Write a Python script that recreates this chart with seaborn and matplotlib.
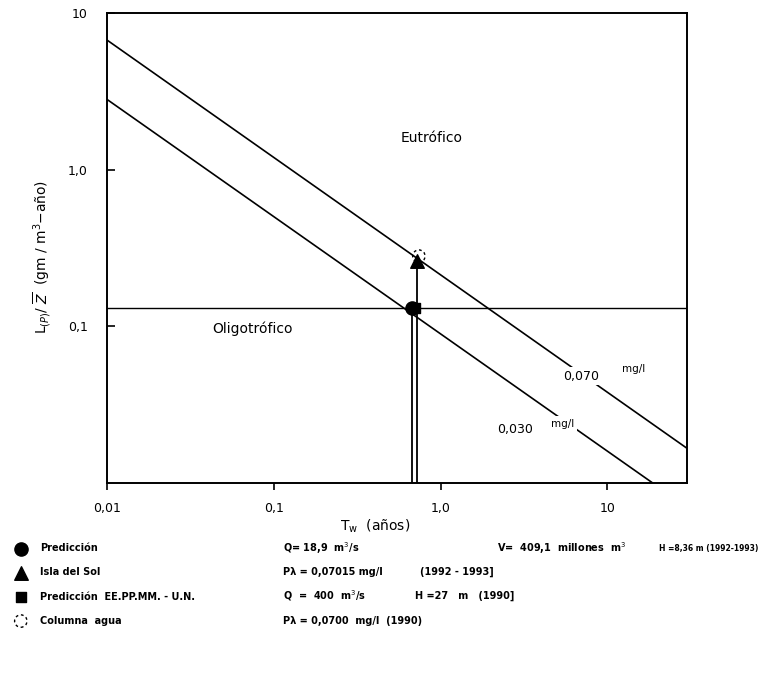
import matplotlib
matplotlib.use("Agg")
import matplotlib.pyplot as plt
import pandas as pd
import seaborn as sns

# Vollenweider-type loading lines
tw_070 = [0.01, 30.0]
load_070 = [6.7, 0.0166]
tw_030 = [0.01, 18.6]
load_030 = [2.8, 0.01]

# boundary eutrophic / oligotrophic
limit_load = 0.13

# drop lines from the points down to the x axis
drop_tw = [0.67, 0.72]
drop_top = [0.13, 0.27]

# observed / predicted points
pt_names = ["Predicción", "Isla del Sol", "Predicción  EE.PP.MM. - U.N.", "Columna  agua"]
pt_tw = [0.67, 0.70, 0.72, 0.74]
pt_load = [0.13, 0.13, 0.26, 0.28]

x_ticks = [0.01, 0.1, 1.0, 10]
x_ticklabels = ["0,01", "0,1", "1,0", "10"]
y_ticks = [0.1, 1.0, 10]
y_ticklabels = ["0,1", "1,0", "10"]

sns.set_theme(style="ticks")
plt.rcParams["font.family"] = ["DejaVu Sans"]
plt.rcParams.update({"text.color": "black", "axes.labelcolor": "black",
                     "xtick.color": "black", "ytick.color": "black"})

fig = plt.figure(figsize=(7.6, 6.8), dpi=100)
ax = fig.add_axes([0.141, 0.290, 0.763, 0.691])

lines = pd.DataFrame({
    "tw": tw_070 + tw_030,
    "load": load_070 + load_030,
    "conc": ["0.070"] * 2 + ["0.030"] * 2,
})
sns.lineplot(data=lines, x="tw", y="load", units="conc", estimator=None,
             color="black", lw=1.2, ax=ax)
ax.axhline(limit_load, color="black", lw=1.0)
for x, top in zip(drop_tw, drop_top):
    ax.plot([x, x], [0.01, top], color="black", lw=1.3)

pts = pd.DataFrame({"tw": pt_tw, "load": pt_load, "name": pt_names})
h_circ = ax.scatter(pts.tw[0], pts.load[0], s=90, marker="o", color="black", zorder=5)
h_sq = ax.scatter(pts.tw[1], pts.load[1], s=60, marker="s", color="black", zorder=5)
h_tri = ax.scatter(pts.tw[2], pts.load[2], s=95, marker="^", color="black", zorder=5)
h_col = ax.scatter(pts.tw[3], pts.load[3], s=80, marker="o", facecolor="none",
                   edgecolor="black", linestyle=(0, (2, 2)), lw=1.0, zorder=6)

ax.set_xscale("log")
ax.set_yscale("log")
ax.set_xlim(0.01, 30)
ax.set_ylim(0.01, 10)
ax.set_xticks(x_ticks)
ax.set_xticklabels(x_ticklabels)
ax.set_yticks(y_ticks)
ax.set_yticklabels(y_ticklabels)
ax.minorticks_off()
ax.tick_params(axis="x", direction="out", length=5, width=1.2, pad=9, labelsize=9)
ax.tick_params(axis="y", direction="in", length=6, width=1.2, pad=14, labelsize=9)
for s in ax.spines.values():
    s.set_visible(True)
    s.set_linewidth(1.4)
    s.set_color("black")

ax.set_xlabel(r"T$_{\rm w}$  (años)", fontsize=10)
ax.xaxis.set_label_coords(0.462, -0.075)
ax.set_ylabel(r"L$_{(P)}$/ $\overline{Z}$  (gm / m$^3$$-$año)", fontsize=10)
ax.yaxis.set_label_coords(-0.093, 0.48)

ax.text(0.88, 1.59, "Eutrófico", fontsize=10, ha="center", va="center")
ax.text(0.074, 0.096, "Oligotrófico", fontsize=10, ha="center", va="center")
ax.text(6.98, 0.048, "0,070", fontsize=9, ha="center", va="center",
        bbox=dict(facecolor="white", edgecolor="none", pad=2))
ax.text(14.3, 0.053, "mg/l", fontsize=7.5, ha="center", va="center")
ax.text(2.8, 0.0218, "0,030", fontsize=9, ha="center", va="center")
ax.text(5.4, 0.0238, "mg/l", fontsize=7.5, ha="center", va="center",
        bbox=dict(facecolor="white", edgecolor="none", pad=2))

# legend below the plot, in the order of the original
fig.legend([h_circ, h_tri, h_sq, h_col],
           [pt_names[0], pt_names[1], pt_names[2], pt_names[3]],
           loc="upper left", bbox_to_anchor=(0.021, 0.201),
           frameon=False, handlelength=1.0, handletextpad=1.5,
           borderpad=0, borderaxespad=0, labelspacing=1.45, scatterpoints=1,
           prop={"weight": "bold", "size": 7})

info = [
    (0.372, 0.194, r"Q= 18,9  m$^3$/s"),
    (0.654, 0.194, r"V=  409,1  millones  m$^3$"),
    (0.372, 0.159, "Pλ = 0,07015 mg/l"),
    (0.553, 0.159, "(1992 - 1993]"),
    (0.372, 0.124, r"Q  =  400  m$^3$/s"),
    (0.546, 0.124, "H =27   m   (1990]"),
    (0.372, 0.087, "Pλ = 0,0700  mg/l  (1990)"),
]
for x, y, t in info:
    fig.text(x, y, t, fontsize=7, weight="bold", va="center")
fig.text(0.998, 0.194, "H =8,36 m (1992-1993)", fontsize=5.5, weight="bold",
         va="center", ha="right")

fig.savefig("out.png", dpi=100)
